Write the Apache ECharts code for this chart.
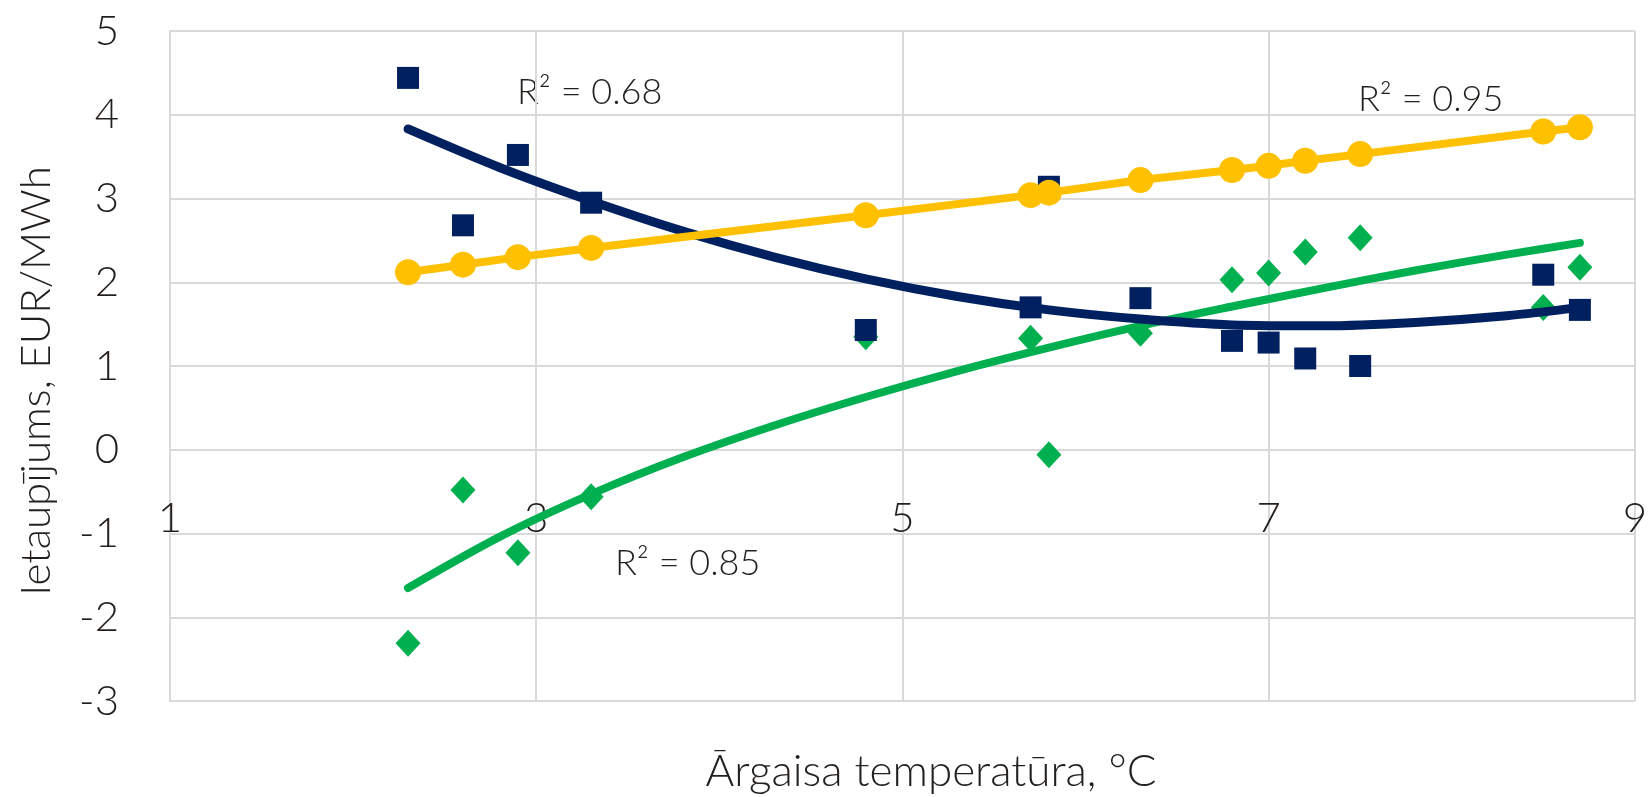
<!DOCTYPE html>
<html>
<head>
<meta charset="utf-8">
<script src="https://cdn.jsdelivr.net/npm/echarts@6/dist/echarts.min.js"></script>
<style>
  html, body { margin: 0; padding: 0; background: #fff; }
  #chart { width: 1650px; height: 797px; }
</style>
</head>
<body>
<div id="chart"></div>
<script>
// outdoor temperature, °C
const temps = [2.3, 2.6, 2.9, 3.3, 4.8, 5.7, 5.8, 6.3, 6.8, 7.0, 7.2, 7.5, 8.5, 8.7]
// savings, EUR/MWh
const savingsBlue = [4.44, 2.68, 3.52, 2.95, 1.43, 1.70, 3.14, 1.81, 1.30, 1.28, 1.09, 1.00, 2.09, 1.67]
const savingsGreen = [-2.31, -0.48, -1.23, -0.56, 1.35, 1.33, -0.06, 1.39, 2.03, 2.11, 2.36, 2.53, 1.70, 2.18]
const savingsYellow = [2.12, 2.21, 2.30, 2.41, 2.80, 3.04, 3.07, 3.22, 3.34, 3.39, 3.45, 3.53, 3.80, 3.85]

// trendlines
const trendX = [2.3, 2.8, 3.3, 3.8, 4.3, 4.8, 5.3, 5.8, 6.3, 6.8, 7.3, 7.8, 8.3, 8.7]
const trendBlue = [3.83, 3.37, 2.97, 2.61, 2.30, 2.04, 1.83, 1.67, 1.56, 1.49, 1.48, 1.52, 1.60, 1.70]
const trendGreen = [-1.65, -1.04, -0.53, -0.09, 0.29, 0.63, 0.94, 1.22, 1.48, 1.71, 1.93, 2.14, 2.33, 2.47]

const xTicks = [1, 3, 5, 7, 9]
const yTicks = [-3, -2, -1, 0, 1, 2, 3, 4, 5]

const r2Labels = ['R² = 0.68', 'R² = 0.95', 'R² = 0.85']

const FONT = 'Lato'
const TEXT = '#231f1c'
const GRID = '#d9d9d9'
const BLUE = '#002060'
const GREEN = '#00b050'
const YELLOW = '#ffc000'

const zip = (xs, ys) => xs.map((x, i) => [x, ys[i]])

const chart = echarts.init(document.getElementById('chart'))

// the x axis crosses the y axis at 0: plot is 670px tall for 8 units, 0 sits 3 units above the bottom
const gridTop = 31
const gridBottom = 96
const plotH = 797 - gridTop - gridBottom
const zeroShift = -Math.round(plotH * (0 - yTicks[0]) / (yTicks[yTicks.length - 1] - yTicks[0]))

chart.setOption({
  backgroundColor: '#fff',
  animation: false,
  grid: { left: 170, right: 12, top: gridTop, bottom: gridBottom },
  xAxis: {
    type: 'value',
    min: xTicks[0],
    max: xTicks[xTicks.length - 1],
    interval: 2,
    offset: zeroShift,
    axisLine: { show: true, onZero: false, lineStyle: { color: GRID, width: 2 } },
    axisTick: { show: false },
    axisLabel: {
      color: TEXT, fontFamily: FONT, fontWeight: 300, fontSize: 42,
      margin: 68, verticalAlign: 'middle'
    },
    splitLine: { show: true, lineStyle: { color: GRID, width: 2 } }
  },
  yAxis: {
    type: 'value',
    min: yTicks[0],
    max: yTicks[yTicks.length - 1],
    interval: 1,
    axisLine: { show: true, onZero: false, lineStyle: { color: GRID, width: 2 } },
    axisTick: { show: false },
    axisLabel: { color: TEXT, fontFamily: FONT, fontWeight: 300, fontSize: 42, margin: 51 },
    splitLine: { show: true, lineStyle: { color: GRID, width: 2 } }
  },
  graphic: [
    {
      type: 'text', x: 36, y: 381, rotation: Math.PI / 2,
      style: {
        text: 'Ietaupījums, EUR/MWh', fill: TEXT, font: '300 42px Lato',
        align: 'center', verticalAlign: 'middle'
      }
    },
    {
      type: 'text', x: 931, y: 772,
      style: {
        text: 'Ārgaisa temperatūra, °C', fill: TEXT, font: '300 44px Lato',
        align: 'center', verticalAlign: 'middle'
      }
    },
    { type: 'text', x: 517, y: 92, style: { text: r2Labels[0], fill: TEXT, font: '300 36px Lato', verticalAlign: 'middle' } },
    { type: 'text', x: 1358, y: 99, style: { text: r2Labels[1], fill: TEXT, font: '300 36px Lato', verticalAlign: 'middle' } },
    { type: 'text', x: 615, y: 563, style: { text: r2Labels[2], fill: TEXT, font: '300 36px Lato', verticalAlign: 'middle' } }
  ],
  series: [
    {
      name: 'green',
      type: 'scatter',
      symbol: 'diamond',
      symbolSize: [25, 27],
      itemStyle: { color: GREEN, opacity: 1 },
      data: zip(temps, savingsGreen)
    },
    {
      name: 'green trend',
      type: 'line',
      smooth: 0.3,
      showSymbol: false,
      lineStyle: { color: GREEN, width: 8, cap: 'round' },
      data: zip(trendX, trendGreen)
    },
    {
      name: 'blue',
      type: 'scatter',
      symbol: 'rect',
      symbolSize: 22,
      itemStyle: { color: BLUE, opacity: 1 },
      data: zip(temps, savingsBlue)
    },
    {
      name: 'blue trend',
      type: 'line',
      smooth: 0.3,
      showSymbol: false,
      lineStyle: { color: BLUE, width: 9, cap: 'round' },
      data: zip(trendX, trendBlue)
    },
    {
      name: 'yellow',
      type: 'line',
      symbol: 'circle',
      symbolSize: 26,
      itemStyle: { color: YELLOW, opacity: 1 },
      lineStyle: { color: YELLOW, width: 8 },
      data: zip(temps, savingsYellow)
    }
  ]
})
</script>
</body>
</html>
